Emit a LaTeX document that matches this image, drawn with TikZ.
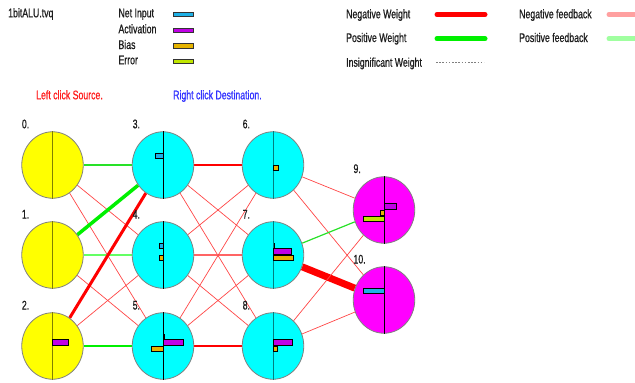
\documentclass[tikz,border=0pt]{standalone}
\usepackage{fontspec}
\setmainfont[FakeStretch=0.7,FakeBold=0.8]{Liberation Sans}
\usetikzlibrary{shapes.geometric,backgrounds}
\definecolor{netc}{RGB}{30,176,230}
\definecolor{actc}{RGB}{192,0,230}
\definecolor{biasc}{RGB}{230,180,0}
\definecolor{errc}{RGB}{192,230,0}
\definecolor{txt}{RGB}{30,30,30}
\definecolor{oliveln}{RGB}{128,128,0}
\definecolor{tealln}{RGB}{0,128,128}
\definecolor{rimc}{RGB}{128,128,128}
\definecolor{negfb}{RGB}{255,160,160}
\definecolor{posfb}{RGB}{160,255,160}
\definecolor{negw}{RGB}{255,0,0}
\definecolor{posw}{RGB}{0,240,0}
\definecolor{posthin}{RGB}{40,225,40}
\definecolor{negthin}{RGB}{255,70,70}
\definecolor{neglight}{RGB}{255,100,100}
\definecolor{poslight}{RGB}{100,255,100}
\definecolor{srcred}{RGB}{255,30,30}
\definecolor{dstblue}{RGB}{50,50,255}
\definecolor{ylw}{RGB}{255,255,0}
\definecolor{cyn}{RGB}{0,255,255}
\definecolor{mgn}{RGB}{255,0,255}
\newcommand\fsz{\fontsize{12.5}{14}\selectfont}
\newcommand\nbar[4]{\begin{scope}[shift={(#1.center)}]\draw[fill=#2,draw=black,line width=0.7pt] (0,#3) rectangle (#4,#3+5.5);\end{scope}}
\newcommand\nzero[1]{\begin{scope}[shift={(#1.center)}]\draw[black,line width=0.8pt] (1,-12) -- (1,-6.5);\end{scope}}
\tikzset{
  neuron/.style={ellipse, draw=rimc, line width=0.8pt, minimum width=61.5pt, minimum height=66.5pt, inner sep=0pt},
  inp/.style={neuron, fill=ylw},
  hid/.style={neuron, fill=cyn},
  outn/.style={neuron, fill=mgn},
  lbl/.style={anchor=base west, inner sep=0pt, font=\fsz, text=txt},
  swatch/.style={draw=black!80, line width=0.7pt},
  legline/.style={line width=5pt, line cap=round},
  wneg/.style={draw=negthin, line width=0.7pt},
  wneg1/.style={draw=negw, line width=1.2pt},
  wnegl/.style={draw=neglight, line width=1.8pt},
  wnegk/.style={draw=negw, line width=3pt},
  wnegx/.style={draw=negw, line width=7pt},
  wpos/.style={draw=posthin, line width=1.2pt},
  wposl/.style={draw=poslight, line width=2pt},
  wposm/.style={draw=posw, line width=2.5pt},
  wposk/.style={draw=posw, line width=3.5pt},
}
\begin{document}
\begin{tikzpicture}[x=1pt,y=-1pt]
\useasboundingbox (0,0) rectangle (635,383);
\clip (0,0) rectangle (635,383);
% header texts
\node[lbl] (title) at (8,17.3) {1bitALU.tvq};
\node[lbl] (tnet) at (118.3,17.3) {Net Input};
\node[lbl] (tact) at (118.3,33.3) {Activation};
\node[lbl] (tbias) at (118.3,49) {Bias};
\node[lbl] (terr) at (118.3,64.3) {Error};
\draw[swatch, fill=netc] (173.3,12.3) rectangle (193.5,16.8);
\draw[swatch, fill=actc] (173.3,28.3) rectangle (193.5,32.8);
\draw[swatch, fill=biasc] (173.3,43.8) rectangle (193.5,48.3);
\draw[swatch, fill=errc] (173.3,59.3) rectangle (193.5,63.8);
\node[lbl, text=srcred] (tsrc) at (36,99.3) {Left click Source.};
\node[lbl, text=dstblue] (tdst) at (173,99.3) {Right click Destination.};
\node[lbl] (tnw) at (346,18.3) {Negative Weight};
\node[lbl] (tpw) at (346,42) {Positive Weight};
\node[lbl] (tiw) at (346,66.7) {Insignificant Weight};
\node[lbl] (tnf) at (519,18.3) {Negative feedback};
\node[lbl] (tpf) at (519,42) {Positive feedback};
\draw[legline, negw] (437,14.5) -- (485,14.5);
\draw[legline, posw] (437,38.7) -- (485,38.7);
\draw[gray, line width=0.6pt, dash pattern=on 1.5pt off 1.7pt] (436,62.5) -- (484,62.5);
\draw[legline, negfb] (609,14.5) -- (645,14.5);
\draw[legline, posfb] (609,38.7) -- (645,38.7);
% neurons
\node[inp] (n0) at (52.5,165) {};
\node[inp] (n1) at (52.5,255) {};
\node[inp] (n2) at (52.5,346) {};
\node[hid] (n3) at (163,165) {};
\node[hid] (n4) at (163,255) {};
\node[hid] (n5) at (163,346) {};
\node[hid] (n6) at (273,165) {};
\node[hid] (n7) at (273,255) {};
\node[hid] (n8) at (273,346) {};
\node[outn] (n9) at (384,210) {};
\node[outn] (n10) at (384,300) {};
% connections
\begin{scope}[on background layer]
\draw[wpos] (n0) -- (n3);
\draw[wneg] (n0) -- (n4);
\draw[wneg] (n0) -- (n5);
\draw[wposk] (n1) -- (n3);
\draw[wposl] (n1) -- (n4);
\draw[wneg] (n1) -- (n5);
\draw[wnegk] (n2) -- (n3);
\draw[wneg] (n2) -- (n4);
\draw[wposm] (n2) -- (n5);
\draw[wneg1] (n3) -- (n6);
\draw[wneg] (n3) -- (n7);
\draw[wneg] (n3) -- (n8);
\draw[wneg] (n4) -- (n6);
\draw[wnegl] (n4) -- (n7);
\draw[wneg] (n4) -- (n8);
\draw[wneg] (n5) -- (n6);
\draw[wneg] (n5) -- (n7);
\draw[wneg1] (n5) -- (n8);
\draw[wneg] (n6) -- (n9);
\draw[wneg] (n6) -- (n10);
\draw[wpos] (n7) -- (n9);
\draw[wnegx] (n7) -- (n10);
\draw[wneg] (n8) -- (n9);
\draw[wneg] (n8) -- (n10);
\end{scope}
% centre lines
\foreach \n in {n0,n1,n2} \draw[oliveln, line width=0.8pt] (\n.north) -- (\n.south);
\foreach \n in {n3,n4,n5,n9,n10} \draw[black, line width=0.8pt] (\n.north) -- (\n.south);
\foreach \n in {n6,n7,n8} \draw[tealln, line width=0.8pt] (\n.north) -- (\n.south);
% labels
\node[lbl] (l0) at (21.7,128.3) {0.};
\node[lbl] (l1) at (21.7,218.5) {1.};
\node[lbl] (l2) at (21.7,309.5) {2.};
\node[lbl] (l3) at (132.5,128.3) {3.};
\node[lbl] (l4) at (132.5,218.5) {4.};
\node[lbl] (l5) at (132.5,309.5) {5.};
\node[lbl] (l6) at (242.5,128.3) {6.};
\node[lbl] (l7) at (242.5,218.5) {7.};
\node[lbl] (l8) at (242.5,309.5) {8.};
\node[lbl] (l9) at (353.3,173) {9.};
\node[lbl] (l10) at (353.3,263.5) {10.};
% bars
\nbar{n3}{netc}{-12}{-8}
\nbar{n4}{netc}{-12}{-4}
\nbar{n4}{biasc}{0}{-4}
\nzero{n5}
\nbar{n5}{actc}{-6.5}{20}
\nbar{n5}{biasc}{0}{-12}
\nbar{n2}{actc}{-6.5}{16}
\nbar{n6}{biasc}{0}{5}
\nzero{n7}
\nbar{n7}{actc}{-6.5}{18}
\nbar{n7}{biasc}{0}{20}
\nbar{n8}{actc}{-6.5}{19}
\nbar{n8}{biasc}{0}{4}
\nbar{n9}{actc}{-6.5}{12}
\nbar{n9}{biasc}{0}{-4}
\nbar{n9}{errc}{6}{-21}
\nbar{n10}{netc}{-12}{-21}
\end{tikzpicture}
\end{document}
